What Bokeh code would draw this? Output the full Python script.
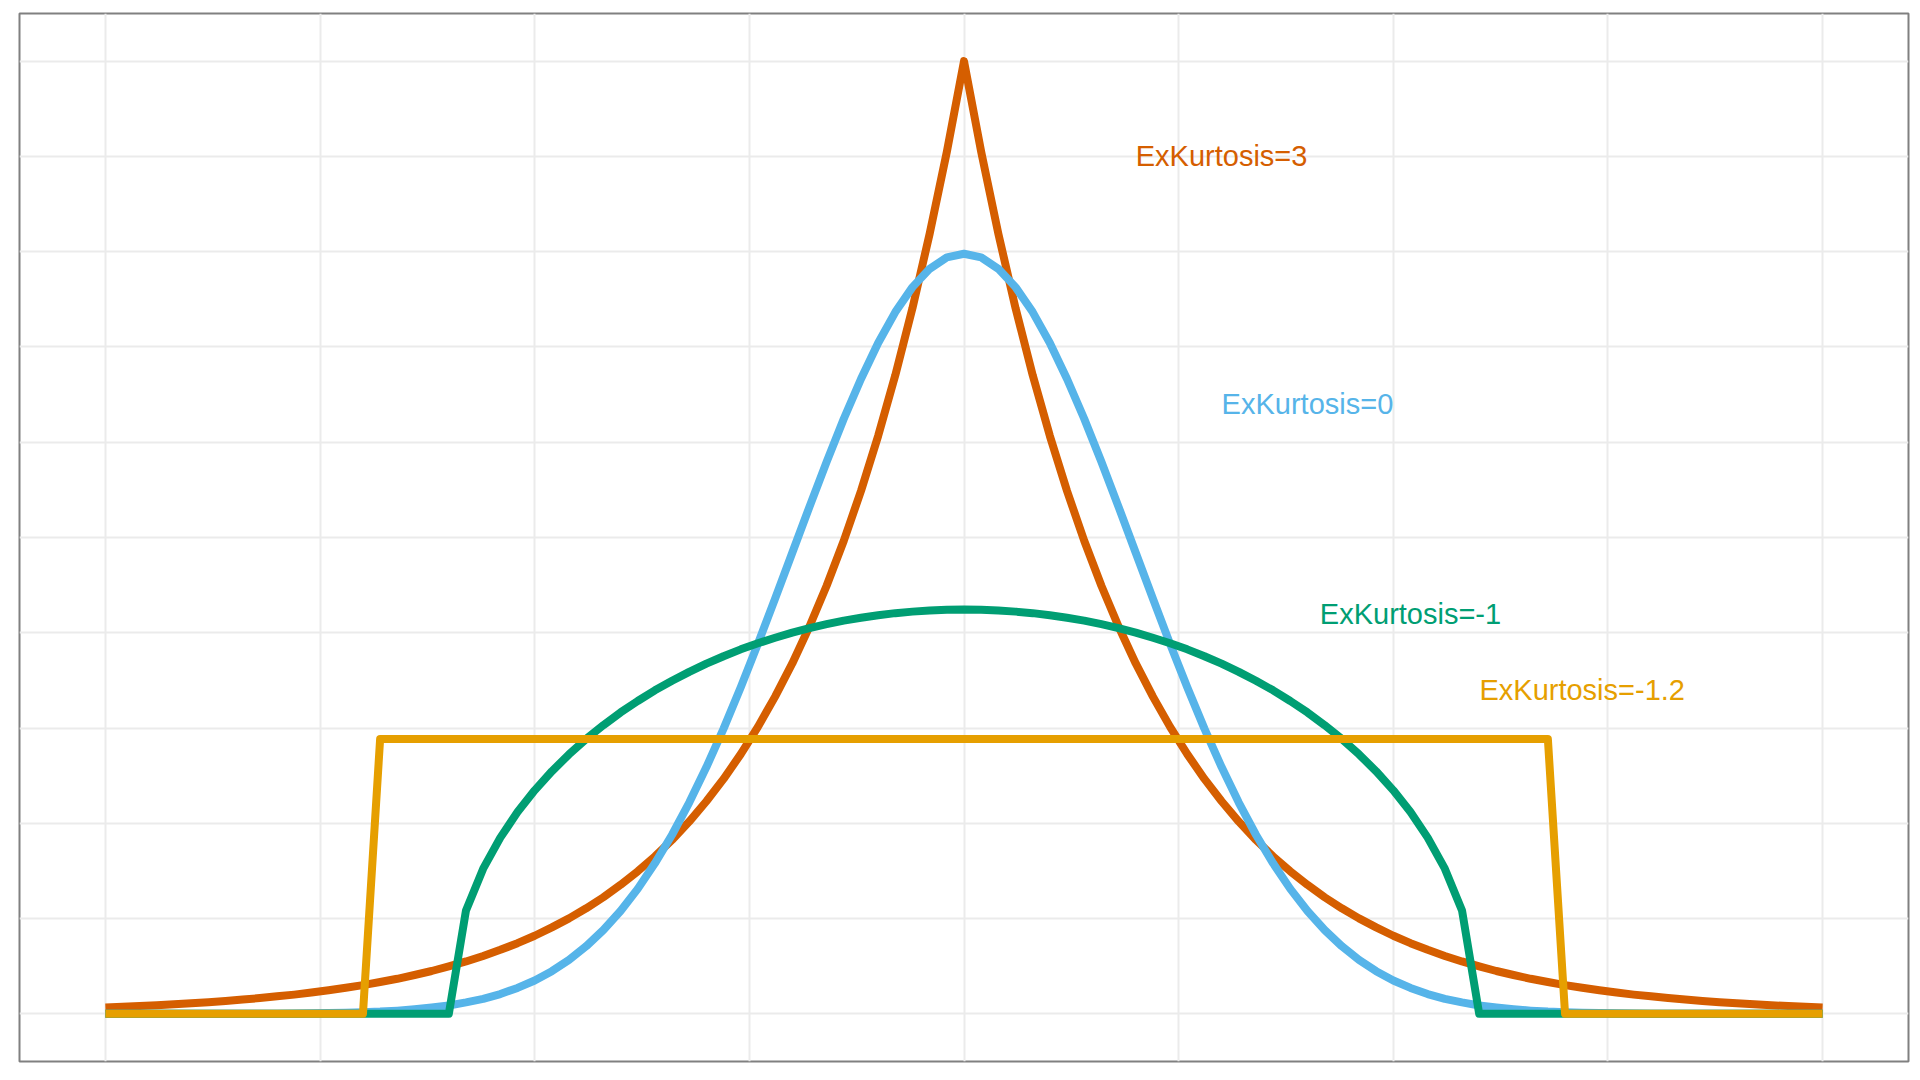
from bokeh.plotting import figure
from bokeh.models import Range1d, Grid, FixedTicker, ColumnDataSource
from bokeh.core.properties import value
from bokeh.embed import file_html
from bokeh.resources import INLINE

# ---- data ----
X = [
    -5.0, -4.9, -4.8, -4.7, -4.6, -4.5, -4.4, -4.3, -4.2, -4.1,
    -4.0, -3.9, -3.8, -3.7, -3.6, -3.5, -3.4, -3.3, -3.2, -3.1,
    -3.0, -2.9, -2.8, -2.7, -2.6, -2.5, -2.4, -2.3, -2.2, -2.1,
    -2.0, -1.9, -1.8, -1.7, -1.6, -1.5, -1.4, -1.3, -1.2, -1.1,
    -1.0, -0.9, -0.8, -0.7, -0.6, -0.5, -0.4, -0.3, -0.2, -0.1,
    0.0,
    0.1, 0.2, 0.3, 0.4, 0.5, 0.6, 0.7, 0.8, 0.9, 1.0,
    1.1, 1.2, 1.3, 1.4, 1.5, 1.6, 1.7, 1.8, 1.9, 2.0,
    2.1, 2.2, 2.3, 2.4, 2.5, 2.6, 2.7, 2.8, 2.9, 3.0,
    3.1, 3.2, 3.3, 3.4, 3.5, 3.6, 3.7, 3.8, 3.9, 4.0,
    4.1, 4.2, 4.3, 4.4, 4.5, 4.6, 4.7, 4.8, 4.9, 5.0,
]

laplace = [  # ExKurtosis=3
    0.0034, 0.0037, 0.0041, 0.0045, 0.0050, 0.0056, 0.0061, 0.0068, 0.0075, 0.0083,
    0.0092, 0.0101, 0.0112, 0.0124, 0.0137, 0.0151, 0.0167, 0.0184, 0.0204, 0.0225,
    0.0249, 0.0275, 0.0304, 0.0336, 0.0371, 0.0410, 0.0454, 0.0501, 0.0554, 0.0612,
    0.0677, 0.0748, 0.0826, 0.0913, 0.1009, 0.1116, 0.1233, 0.1363, 0.1506, 0.1665,
    0.1839, 0.2033, 0.2247, 0.2483, 0.2744, 0.3033, 0.3352, 0.3704, 0.4094, 0.4524,
    0.5000,
    0.4524, 0.4094, 0.3704, 0.3352, 0.3033, 0.2744, 0.2483, 0.2247, 0.2033, 0.1839,
    0.1665, 0.1506, 0.1363, 0.1233, 0.1116, 0.1009, 0.0913, 0.0826, 0.0748, 0.0677,
    0.0612, 0.0554, 0.0501, 0.0454, 0.0410, 0.0371, 0.0336, 0.0304, 0.0275, 0.0249,
    0.0225, 0.0204, 0.0184, 0.0167, 0.0151, 0.0137, 0.0124, 0.0112, 0.0101, 0.0092,
    0.0083, 0.0075, 0.0068, 0.0061, 0.0056, 0.0050, 0.0045, 0.0041, 0.0037, 0.0034,
]

normal = [  # ExKurtosis=0
    0.0000, 0.0000, 0.0000, 0.0000, 0.0000, 0.0000, 0.0000, 0.0000, 0.0001, 0.0001,
    0.0001, 0.0002, 0.0003, 0.0004, 0.0006, 0.0009, 0.0012, 0.0017, 0.0024, 0.0033,
    0.0044, 0.0060, 0.0079, 0.0104, 0.0136, 0.0175, 0.0224, 0.0283, 0.0355, 0.0440,
    0.0540, 0.0656, 0.0790, 0.0940, 0.1109, 0.1295, 0.1497, 0.1714, 0.1942, 0.2179,
    0.2420, 0.2661, 0.2897, 0.3123, 0.3332, 0.3521, 0.3683, 0.3814, 0.3910, 0.3970,
    0.3989,
    0.3970, 0.3910, 0.3814, 0.3683, 0.3521, 0.3332, 0.3123, 0.2897, 0.2661, 0.2420,
    0.2179, 0.1942, 0.1714, 0.1497, 0.1295, 0.1109, 0.0940, 0.0790, 0.0656, 0.0540,
    0.0440, 0.0355, 0.0283, 0.0224, 0.0175, 0.0136, 0.0104, 0.0079, 0.0060, 0.0044,
    0.0033, 0.0024, 0.0017, 0.0012, 0.0009, 0.0006, 0.0004, 0.0003, 0.0002, 0.0001,
    0.0001, 0.0001, 0.0000, 0.0000, 0.0000, 0.0000, 0.0000, 0.0000, 0.0000, 0.0000,
]

semicircle = [  # ExKurtosis=-1
    0.0, 0.0, 0.0, 0.0, 0.0, 0.0, 0.0, 0.0, 0.0, 0.0,
    0.0, 0.0, 0.0, 0.0, 0.0, 0.0, 0.0, 0.0, 0.0, 0.0,
    0.0000, 0.0543, 0.0762, 0.0925, 0.1059, 0.1173, 0.1273, 0.1362, 0.1443, 0.1515,
    0.1582, 0.1642, 0.1698, 0.1748, 0.1795, 0.1838, 0.1877, 0.1913, 0.1945, 0.1974,
    0.2001, 0.2024, 0.2045, 0.2064, 0.2079, 0.2092, 0.2103, 0.2111, 0.2117, 0.2121,
    0.2122,
    0.2121, 0.2117, 0.2111, 0.2103, 0.2092, 0.2079, 0.2064, 0.2045, 0.2024, 0.2001,
    0.1974, 0.1945, 0.1913, 0.1877, 0.1838, 0.1795, 0.1748, 0.1698, 0.1642, 0.1582,
    0.1515, 0.1443, 0.1362, 0.1273, 0.1173, 0.1059, 0.0925, 0.0762, 0.0543, 0.0000,
    0.0, 0.0, 0.0, 0.0, 0.0, 0.0, 0.0, 0.0, 0.0, 0.0,
    0.0, 0.0, 0.0, 0.0, 0.0, 0.0, 0.0, 0.0, 0.0, 0.0,
]

uniform = [  # ExKurtosis=-1.2
    0.0, 0.0, 0.0, 0.0, 0.0, 0.0, 0.0, 0.0, 0.0, 0.0,
    0.0, 0.0, 0.0, 0.0, 0.0, 0.0, 0.1443, 0.1443, 0.1443, 0.1443,
    0.1443, 0.1443, 0.1443, 0.1443, 0.1443, 0.1443, 0.1443, 0.1443, 0.1443, 0.1443,
    0.1443, 0.1443, 0.1443, 0.1443, 0.1443, 0.1443, 0.1443, 0.1443, 0.1443, 0.1443,
    0.1443, 0.1443, 0.1443, 0.1443, 0.1443, 0.1443, 0.1443, 0.1443, 0.1443, 0.1443,
    0.1443,
    0.1443, 0.1443, 0.1443, 0.1443, 0.1443, 0.1443, 0.1443, 0.1443, 0.1443, 0.1443,
    0.1443, 0.1443, 0.1443, 0.1443, 0.1443, 0.1443, 0.1443, 0.1443, 0.1443, 0.1443,
    0.1443, 0.1443, 0.1443, 0.1443, 0.1443, 0.1443, 0.1443, 0.1443, 0.1443, 0.1443,
    0.1443, 0.1443, 0.1443, 0.1443, 0.0, 0.0, 0.0, 0.0, 0.0, 0.0,
    0.0, 0.0, 0.0, 0.0, 0.0, 0.0, 0.0, 0.0, 0.0, 0.0,
]

label_text = ["ExKurtosis=3", "ExKurtosis=0", "ExKurtosis=-1", "ExKurtosis=-1.2"]
label_x = [1.5, 2.0, 2.6, 3.6]
label_y = [0.45, 0.32, 0.21, 0.17]

x_breaks = [-5.0, -3.75, -2.5, -1.25, 0.0, 1.25, 2.5, 3.75, 5.0]
y_breaks = [0.0, 0.05, 0.10, 0.15, 0.20, 0.25, 0.30, 0.35, 0.40, 0.45, 0.50]

# ---- styles ----
colors = ["#D55E00", "#56B4E9", "#009E73", "#E69F00"]

p = figure(
    width=1913, height=1072,
    output_backend="svg", toolbar_location=None,
    x_range=Range1d(-5.5, 5.5), y_range=Range1d(-0.025, 0.525),
    x_axis_location=None, y_axis_location=None,
    min_border_left=19, min_border_right=5, min_border_top=13, min_border_bottom=11,
)
p.background_fill_color = "white"
p.border_fill_color = "white"
p.outline_line_color = "#808080"
p.outline_line_width = 2

for g in list(p.xgrid) + list(p.ygrid):
    g.visible = False

p.add_layout(Grid(dimension=0, ticker=FixedTicker(ticks=x_breaks),
                  grid_line_color="#EBEBEB", grid_line_width=2))
p.add_layout(Grid(dimension=1, ticker=FixedTicker(ticks=y_breaks),
                  grid_line_color="#EBEBEB", grid_line_width=2))

series = [laplace, normal, semicircle, uniform]
for ys, c in zip(series, colors):
    p.line(X, ys, line_color=c, line_width=8, line_join="round")

src = ColumnDataSource(dict(x=label_x, y=label_y, t=label_text, c=colors))
p.text(x="x", y="y", text="t", text_color="c", source=src,
       text_font=value("Liberation Sans"), text_font_size="29px",
       text_align="center", text_baseline="middle")

open("out.html", "w").write(file_html(p, INLINE))
